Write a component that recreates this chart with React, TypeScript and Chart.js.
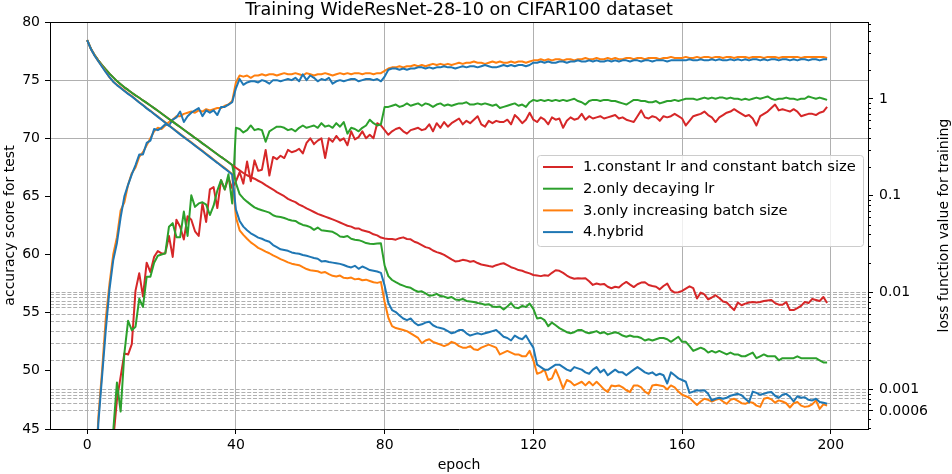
import { useEffect, useRef } from 'react';
import { Chart, registerables } from 'chart.js';

Chart.register(...registerables);

const FONT = '"DejaVu Sans", sans-serif';

const chartTitle = 'Training WideResNet-28-10 on CIFAR100 dataset';
const xTitle = 'epoch';
const yTitle = 'accuracy score for test';
const y2Title = 'loss function value for training';

const seriesNames = [
  '1.constant lr and constant batch size',
  '2.only decaying lr',
  '3.only increasing batch size',
  '4.hybrid',
];
const seriesColors = ['#d62728', '#2ca02c', '#ff7f0e', '#1f77b4'];

const epochs = Array.from({ length: 200 }, (_, i) => i);
const epochTicks = [0, 40, 80, 120, 160, 200];
const accuracyGridValues = [70, 75];
const lossTickValues = [0.0006, 0.001, 0.01, 0.1, 1];
const lossTickLabels = ['0.0006', '0.001', '0.01', '0.1', '1'];
const lossMinorTicks = [
  0.0004, 0.0005, 0.0007, 0.0008, 0.0009,
  0.002, 0.003, 0.004, 0.005, 0.006, 0.007, 0.008, 0.009,
  0.02, 0.03, 0.04, 0.05, 0.06, 0.07, 0.08, 0.09,
  0.2, 0.3, 0.4, 0.5, 0.6, 0.7, 0.8, 0.9,
  2, 3, 4, 5, 6,
];
const lossGridValues = [
  0.0006, 0.00072, 0.0008, 0.00087, 0.00093, 0.001,
  0.002, 0.003, 0.004, 0.005, 0.006, 0.007, 0.0075, 0.008, 0.009, 0.0095, 0.01,
];

// test accuracy (left axis)
const accConst = [
  10.0, 18.0, 25.0, 30.0, 35.0, 39.0, 42.0, 44.0, 47.5, 49.5,
  51.5, 51.4, 52.3, 56.9, 58.4, 56.4, 59.3, 58.5, 59.8, 60.3,
  60.1, 60.1, 61.6, 59.8, 63.0, 62.4, 61.3, 63.3, 63.0, 62.0,
  61.6, 64.4, 62.8, 65.6, 65.8, 64.0, 66.4, 65.6, 66.6, 65.7,
  66.3, 67.1, 66.1, 68.0, 66.3, 68.1, 67.2, 67.3, 69.0, 66.8,
  68.4, 68.2, 68.5, 68.3, 69.0, 68.8, 68.9, 69.1, 68.7, 69.6,
  70.0, 69.5, 69.8, 70.0, 68.3, 70.0, 69.7, 70.2, 69.8, 70.0,
  69.4, 70.6, 69.9, 70.1, 70.6, 70.0, 70.3, 70.0, 71.3, 71.1,
  70.7, 70.3, 70.6, 70.8, 70.9, 70.6, 70.4, 70.7, 70.8, 70.9,
  70.7, 70.8, 71.2, 70.6, 71.3, 70.9, 71.4, 71.0, 71.3, 71.5,
  71.7, 71.2, 71.5, 71.3, 71.6, 71.9, 71.2, 71.0, 71.5, 71.3,
  71.5, 71.4, 71.4, 71.6, 71.2, 72.0, 71.7, 71.3, 71.6, 72.2,
  71.6, 71.4, 71.8, 71.6, 71.2, 71.8, 71.6, 71.7, 70.9, 71.5,
  71.8, 71.6, 71.7, 72.1, 71.6, 71.9, 71.7, 71.8, 71.9, 71.7,
  71.8, 71.9, 72.0, 71.7, 71.8, 71.6, 71.5, 71.4, 71.9, 72.4,
  71.8, 71.7, 71.9, 71.8, 71.5, 71.9, 71.8, 71.9, 72.1, 71.9,
  71.7, 71.1, 71.5, 71.9, 72.0, 72.1, 72.3, 72.0, 71.8, 71.4,
  71.8, 72.0, 72.2, 72.3, 72.5, 72.3, 72.1, 71.9, 72.0, 71.7,
  71.1, 71.9, 72.1, 72.3, 72.6, 72.9, 72.4, 72.5, 72.4, 72.3,
  72.5, 72.3, 71.9, 72.0, 72.1, 72.1, 72.0, 72.2, 72.3, 72.7,
];
const accDecayLr = [
  10.0, 18.0, 25.0, 30.0, 35.0, 39.0, 42.0, 44.8, 49.0, 46.5,
  51.5, 54.3, 53.5, 53.8, 56.2, 55.5, 58.1, 58.1, 59.3, 59.9,
  60.0, 60.1, 62.4, 62.7, 61.5, 61.5, 63.7, 61.6, 65.1, 64.1,
  64.4, 64.5, 64.3, 63.4, 64.2, 65.5, 66.4, 65.6, 66.9, 64.4,
  70.9, 70.8, 70.5, 70.7, 71.1, 70.7, 70.8, 70.7, 69.7, 70.6,
  70.8, 71.0, 71.0, 70.9, 70.7, 70.8, 70.6, 70.9, 71.1, 70.9,
  71.0, 71.1, 70.9, 71.3, 71.0, 71.1, 70.9, 71.3, 71.0, 71.4,
  70.4, 70.9, 70.8, 70.6, 70.9, 71.1, 71.6, 71.3, 71.1, 71.2,
  72.7, 72.7, 72.8, 72.9, 72.7, 72.8, 73.0, 72.8, 72.9, 73.0,
  72.8, 73.0, 72.9, 72.7, 72.9, 73.0, 72.8, 72.9, 72.8, 72.9,
  73.0, 73.0, 73.1, 72.9, 72.9, 73.0, 72.9, 73.0, 72.9, 72.8,
  72.9, 72.6, 72.7, 72.8, 72.9, 73.0, 72.8, 72.9, 72.7, 73.1,
  73.3, 73.2, 73.3, 73.2, 73.3, 73.2, 73.3, 73.2, 73.3, 73.2,
  73.3, 73.4, 73.2, 73.1, 72.9, 73.2, 73.3, 73.3, 73.2, 73.3,
  73.3, 73.2, 73.2, 73.1, 73.0, 72.9, 73.1, 73.3, 73.3, 73.2,
  73.2, 73.1, 73.1, 73.2, 73.0, 73.1, 73.2, 73.2, 73.3, 73.2,
  73.3, 73.4, 73.4, 73.4, 73.3, 73.4, 73.5, 73.4, 73.5, 73.4,
  73.5, 73.5, 73.4, 73.5, 73.4, 73.4, 73.3, 73.4, 73.3, 73.4,
  73.5, 73.4, 73.5, 73.6, 73.4, 73.3, 73.4, 73.4, 73.5, 73.4,
  73.4, 73.3, 73.4, 73.4, 73.6, 73.5, 73.4, 73.5, 73.4, 73.3,
];
const accIncBatch = [
  20.5, 30.5, 39.0, 46.0, 50.0, 54.5, 57.5, 60.0, 61.5, 63.8,
  64.5, 66.0, 67.0, 67.5, 68.4, 68.8, 69.4, 70.0, 70.6, 70.9,
  70.8, 71.1, 71.4, 71.6, 71.9, 71.9, 72.1, 72.2, 72.3, 72.2,
  72.4, 72.3, 72.5, 72.4, 72.5, 72.6, 72.6, 72.8, 72.9, 73.2,
  74.8, 75.4, 75.3, 75.4, 75.2, 75.4, 75.4, 75.5, 75.4, 75.5,
  75.5, 75.4, 75.5, 75.6, 75.5, 75.5, 75.6, 75.5, 75.4, 75.6,
  75.5, 75.4, 75.5, 75.5, 75.6, 75.5, 75.4, 75.5, 75.6, 75.5,
  75.6, 75.5, 75.6, 75.6, 75.5, 75.6, 75.6, 75.5, 75.6, 75.6,
  75.8, 76.0, 76.1, 76.1, 76.2, 76.1, 76.2, 76.2, 76.3, 76.2,
  76.3, 76.2, 76.3, 76.4, 76.3, 76.4, 76.3, 76.4, 76.3, 76.4,
  76.5, 76.4, 76.5, 76.5, 76.6, 76.5, 76.5, 76.4, 76.5, 76.6,
  76.5, 76.6, 76.5, 76.5, 76.6, 76.5, 76.6, 76.6, 76.5, 76.6,
  76.7, 76.7, 76.8, 76.7, 76.8, 76.7, 76.8, 76.8, 76.7, 76.8,
  76.8, 76.7, 76.8, 76.8, 76.9, 76.8, 76.8, 76.9, 76.8, 76.8,
  76.9, 76.8, 76.9, 76.8, 76.8, 76.9, 76.9, 76.8, 76.9, 76.9,
  76.8, 76.9, 76.9, 76.9, 76.8, 76.9, 76.9, 77.0, 76.9, 76.9,
  76.9, 77.0, 76.9, 76.9, 77.0, 76.9, 77.0, 77.0, 76.9, 77.0,
  77.0, 76.9, 77.0, 77.0, 76.9, 77.0, 77.0, 77.0, 76.9, 77.0,
  77.0, 77.0, 76.9, 77.0, 77.0, 77.0, 76.9, 77.0, 77.0, 77.0,
  77.0, 77.0, 76.9, 77.0, 77.0, 77.0, 77.0, 77.0, 77.0, 76.9,
];
const accHybrid = [
  20.0, 30.0, 38.5, 45.5, 49.5, 53.5, 57.0, 59.5, 61.0, 63.2,
  65.0, 66.0, 66.9, 67.7, 68.6, 68.6, 69.6, 69.8, 70.8, 70.7,
  70.9, 71.2, 71.1, 71.6, 71.8, 72.3, 71.4, 71.9, 72.2, 72.4,
  72.6, 71.9, 72.4, 72.2, 72.4, 72.0, 72.7, 72.7, 72.9, 73.1,
  74.3, 75.1, 74.6, 74.8, 74.9, 74.9, 74.8, 75.0, 74.9, 74.7,
  75.0, 75.0, 74.9, 75.0, 75.1, 75.0, 75.2, 74.9, 75.5, 75.0,
  75.4, 75.2, 74.9, 75.1, 75.0, 75.2, 74.7, 74.9, 75.0, 74.9,
  75.0, 75.1, 75.1, 74.9, 75.0, 75.1, 75.1, 75.0, 75.1, 74.9,
  75.3, 75.9, 76.0, 76.0, 75.9, 76.0, 75.9, 76.0, 76.0, 76.1,
  76.1, 76.0, 76.1, 76.0, 76.1, 76.1, 76.2, 76.1, 76.1, 76.0,
  76.1, 76.2, 76.1, 76.2, 76.2, 76.1, 76.2, 76.3, 76.2, 76.1,
  76.1, 76.2, 76.3, 76.2, 76.3, 76.2, 76.3, 76.3, 76.2, 76.3,
  76.5, 76.5, 76.6, 76.5, 76.6, 76.5, 76.5, 76.6, 76.6, 76.5,
  76.6, 76.6, 76.7, 76.6, 76.6, 76.7, 76.6, 76.7, 76.6, 76.6,
  76.7, 76.6, 76.7, 76.6, 76.7, 76.7, 76.6, 76.7, 76.7, 76.6,
  76.7, 76.7, 76.6, 76.7, 76.7, 76.7, 76.6, 76.7, 76.7, 76.7,
  76.7, 76.7, 76.8, 76.7, 76.7, 76.8, 76.7, 76.7, 76.8, 76.7,
  76.8, 76.7, 76.7, 76.8, 76.7, 76.8, 76.7, 76.8, 76.7, 76.8,
  76.8, 76.7, 76.8, 76.7, 76.8, 76.8, 76.7, 76.8, 76.8, 76.7,
  76.8, 76.7, 76.8, 76.8, 76.7, 76.8, 76.8, 76.7, 76.8, 76.8,
];

// training loss (right axis, log scale)
const lossConst = [
  4.05, 3.31, 2.85, 2.51, 2.24, 2.02, 1.83, 1.67, 1.53, 1.42,
  1.32, 1.24, 1.16, 1.09, 1.03, 0.966, 0.910, 0.857, 0.805, 0.755,
  0.708, 0.664, 0.622, 0.583, 0.547, 0.513, 0.481, 0.451, 0.423, 0.396,
  0.372, 0.348, 0.327, 0.306, 0.287, 0.269, 0.252, 0.237, 0.222, 0.208,
  0.195, 0.183, 0.172, 0.163, 0.156, 0.150, 0.143, 0.137, 0.129, 0.122,
  0.116, 0.109, 0.104, 0.099, 0.093, 0.089, 0.086, 0.081, 0.078, 0.074,
  0.071, 0.068, 0.065, 0.063, 0.061, 0.059, 0.057, 0.055, 0.053, 0.051,
  0.049, 0.048, 0.046, 0.046, 0.044, 0.043, 0.042, 0.040, 0.039, 0.037,
  0.0362, 0.0358, 0.0357, 0.0352, 0.0365, 0.0372, 0.0358, 0.0355, 0.0335, 0.0325,
  0.0310, 0.0295, 0.0288, 0.0272, 0.0262, 0.0255, 0.0245, 0.0232, 0.0220, 0.0210,
  0.0212, 0.0218, 0.0215, 0.0208, 0.0212, 0.0202, 0.0195, 0.0192, 0.0188, 0.0185,
  0.0192, 0.0197, 0.0201, 0.0192, 0.0183, 0.0178, 0.0171, 0.0168, 0.0162, 0.0158,
  0.0152, 0.0150, 0.0148, 0.0151, 0.0149, 0.0160, 0.0170, 0.0168, 0.0160, 0.0150,
  0.0143, 0.0139, 0.0141, 0.0140, 0.0141, 0.0131, 0.0120, 0.0124, 0.0121, 0.0123,
  0.0115, 0.0111, 0.0115, 0.0113, 0.0122, 0.0129, 0.0121, 0.0114, 0.0122, 0.0127,
  0.0128, 0.0120, 0.0117, 0.0115, 0.0108, 0.0117, 0.0124, 0.0106, 0.0100, 0.0101,
  0.0104, 0.0110, 0.0116, 0.0111, 0.0087, 0.0100, 0.0096, 0.0085, 0.0089, 0.0094,
  0.0088, 0.0081, 0.0079, 0.0072, 0.0066, 0.0079, 0.0074, 0.0077, 0.0079, 0.0080,
  0.0079, 0.0080, 0.0082, 0.0083, 0.0084, 0.0078, 0.0075, 0.0075, 0.0080, 0.0066,
  0.0066, 0.0069, 0.0073, 0.0080, 0.0078, 0.0086, 0.0084, 0.0082, 0.0090, 0.0078,
];
const lossDecayLr = [
  4.05, 3.31, 2.85, 2.51, 2.24, 2.02, 1.83, 1.67, 1.53, 1.42,
  1.32, 1.24, 1.16, 1.09, 1.03, 0.966, 0.910, 0.857, 0.805, 0.755,
  0.708, 0.664, 0.622, 0.583, 0.547, 0.513, 0.481, 0.451, 0.423, 0.396,
  0.372, 0.348, 0.327, 0.306, 0.287, 0.269, 0.252, 0.237, 0.222, 0.208,
  0.135, 0.104, 0.094, 0.087, 0.081, 0.076, 0.073, 0.071, 0.069, 0.067,
  0.063, 0.061, 0.0605, 0.059, 0.057, 0.0555, 0.055, 0.052, 0.050, 0.049,
  0.0475, 0.0445, 0.047, 0.044, 0.0435, 0.043, 0.0425, 0.0405, 0.038, 0.0375,
  0.0385, 0.036, 0.0352, 0.0348, 0.0338, 0.0325, 0.032, 0.0318, 0.0321, 0.0323,
  0.0190, 0.0148, 0.0135, 0.0128, 0.0122, 0.0118, 0.0114, 0.0112, 0.0106, 0.0102,
  0.0103, 0.0098, 0.0093, 0.0094, 0.0097, 0.0092, 0.0091, 0.0088, 0.0090, 0.0085,
  0.0084, 0.0086, 0.0082, 0.0081, 0.0080, 0.0078, 0.0077, 0.0075, 0.0076, 0.0072,
  0.0071, 0.0072, 0.0067, 0.0072, 0.0078, 0.0070, 0.0069, 0.0073, 0.0071, 0.0077,
  0.0068, 0.0054, 0.0055, 0.0052, 0.0045, 0.0049, 0.0046, 0.0043, 0.0041, 0.0039,
  0.0038, 0.0039, 0.0041, 0.0041, 0.0039, 0.0038, 0.0039, 0.0040, 0.0038, 0.0039,
  0.0037, 0.0038, 0.0039, 0.0038, 0.0036, 0.0035, 0.0036, 0.0035, 0.0035, 0.0034,
  0.0032, 0.0033, 0.0032, 0.0033, 0.0034, 0.0034, 0.0033, 0.0031, 0.0033, 0.0035,
  0.0031, 0.0031, 0.0028, 0.0025, 0.0026, 0.0027, 0.0026, 0.0024, 0.0025, 0.0024,
  0.0025, 0.0024, 0.0023, 0.0024, 0.0023, 0.0023, 0.0022, 0.0022, 0.0023, 0.0024,
  0.0021, 0.0022, 0.0023, 0.0022, 0.0022, 0.0022, 0.0020, 0.0021, 0.0021, 0.0021,
  0.0021, 0.0022, 0.0021, 0.0021, 0.0021, 0.0021, 0.0021, 0.0020, 0.0019, 0.0019,
];
const lossIncBatch = [
  4.05, 3.29, 2.81, 2.46, 2.17, 1.92, 1.67, 1.51, 1.40, 1.31,
  1.22, 1.14, 1.07, 0.995, 0.925, 0.865, 0.805, 0.755, 0.705, 0.658,
  0.614, 0.573, 0.535, 0.499, 0.466, 0.435, 0.406, 0.380, 0.356, 0.333,
  0.311, 0.291, 0.272, 0.254, 0.237, 0.221, 0.207, 0.193, 0.180, 0.168,
  0.060, 0.044, 0.0395, 0.036, 0.033, 0.031, 0.029, 0.0278, 0.0265, 0.0255,
  0.0242, 0.0232, 0.0222, 0.0214, 0.0205, 0.0199, 0.0195, 0.0192, 0.0183, 0.0175,
  0.0170, 0.0168, 0.0166, 0.0160, 0.0163, 0.0155, 0.0149, 0.0147, 0.0150, 0.0142,
  0.0141, 0.0143, 0.0137, 0.0139, 0.0134, 0.0136, 0.0132, 0.0128, 0.0126, 0.0129,
  0.0080, 0.0055, 0.0045, 0.0043, 0.0042, 0.0041, 0.0040, 0.0038, 0.0036, 0.0034,
  0.0030, 0.0032, 0.0033, 0.0031, 0.0030, 0.0029, 0.0028, 0.0029, 0.0031, 0.0030,
  0.0028, 0.0027, 0.0027, 0.0028, 0.0026, 0.00255, 0.0027, 0.0028, 0.0029, 0.0028,
  0.0027, 0.0023, 0.0024, 0.0025, 0.0024, 0.0023, 0.0023, 0.0022, 0.0022, 0.0025,
  0.0020, 0.00145, 0.0015, 0.0016, 0.00125, 0.0013, 0.0016, 0.0013, 0.00102, 0.00125,
  0.0012, 0.0011, 0.00115, 0.0012, 0.0011, 0.0012, 0.0011, 0.0012, 0.0011, 0.0010,
  0.00094, 0.0011, 0.00108, 0.0011, 0.00105, 0.00098, 0.00094, 0.0011, 0.0011, 0.00105,
  0.00095, 0.0009, 0.0011, 0.00112, 0.0011, 0.00108, 0.0010, 0.0011, 0.00105, 0.00095,
  0.00088, 0.00085, 0.00082, 0.00075, 0.00069, 0.00075, 0.0008, 0.00078, 0.00075, 0.00078,
  0.00080, 0.00075, 0.00071, 0.00078, 0.0008, 0.00076, 0.00072, 0.00071, 0.00074, 0.00073,
  0.00068, 0.00066, 0.0008, 0.00082, 0.00079, 0.00073, 0.00077, 0.00075, 0.00072, 0.00065,
  0.00072, 0.00074, 0.00068, 0.00066, 0.00067, 0.0007, 0.00077, 0.00063, 0.0007, 0.00068,
];
const lossHybrid = [
  4.05, 3.28, 2.80, 2.45, 2.15, 1.89, 1.68, 1.51, 1.39, 1.30,
  1.21, 1.13, 1.06, 0.99, 0.92, 0.86, 0.80, 0.75, 0.70, 0.653,
  0.610, 0.569, 0.531, 0.495, 0.462, 0.431, 0.403, 0.377, 0.353, 0.330,
  0.308, 0.288, 0.269, 0.251, 0.234, 0.219, 0.204, 0.191, 0.178, 0.166,
  0.072, 0.055, 0.048, 0.044, 0.041, 0.039, 0.037, 0.036, 0.0345, 0.0335,
  0.031, 0.0295, 0.028, 0.0275, 0.027, 0.026, 0.0255, 0.0252, 0.0245, 0.024,
  0.0234, 0.0228, 0.0224, 0.021, 0.0212, 0.0207, 0.0204, 0.0201, 0.0198, 0.0193,
  0.0186, 0.0182, 0.0189, 0.0176, 0.0186, 0.0179, 0.0171, 0.0168, 0.0165, 0.0160,
  0.0118, 0.0078, 0.0066, 0.0063, 0.0058, 0.0054, 0.0052, 0.0054, 0.0049, 0.0046,
  0.0047, 0.0049, 0.0050, 0.0046, 0.0044, 0.0043, 0.0042, 0.0040, 0.0038, 0.0039,
  0.0041, 0.0041, 0.0038, 0.0036, 0.0037, 0.0038, 0.0037, 0.0038, 0.0039, 0.0040,
  0.0041, 0.0038, 0.0035, 0.0034, 0.0032, 0.0036, 0.0034, 0.0033, 0.0036, 0.0031,
  0.0027, 0.0018, 0.0017, 0.0016, 0.0016, 0.0017, 0.0018, 0.0018, 0.0017, 0.0016,
  0.00155, 0.0017, 0.00165, 0.0016, 0.0015, 0.00145, 0.0016, 0.0017, 0.0015, 0.0016,
  0.0014, 0.0015, 0.0016, 0.0015, 0.0015, 0.0014, 0.0015, 0.0016, 0.0017, 0.0016,
  0.0015, 0.00145, 0.0015, 0.0014, 0.00145, 0.0014, 0.00115, 0.0015, 0.0014, 0.0013,
  0.00125, 0.0012, 0.00092, 0.00095, 0.00098, 0.00097, 0.00098, 0.00090, 0.00077, 0.0008,
  0.00082, 0.0008, 0.00082, 0.00086, 0.00088, 0.0009, 0.00087, 0.0008, 0.00074, 0.00095,
  0.00092, 0.00088, 0.0009, 0.00093, 0.00094, 0.00086, 0.00082, 0.00088, 0.0009, 0.00084,
  0.00075, 0.00085, 0.00082, 0.00083, 0.00078, 0.00077, 0.0008, 0.00074, 0.00073, 0.00071,
];

const accSeries = [accConst, accDecayLr, accIncBatch, accHybrid];
const lossSeries = [lossConst, lossDecayLr, lossIncBatch, lossHybrid];

const clear = 'rgba(0,0,0,0)';
const gridGray = '#b0b0b0';

// titles, top spine, minor ticks and the legend, drawn the matplotlib way
const decorPlugin = {
  id: 'decor',
  afterDraw(chart: Chart) {
    const { ctx, chartArea: a } = chart;
    const y2 = chart.scales.y2;
    ctx.save();

    ctx.strokeStyle = '#000';
    ctx.lineWidth = 1;
    ctx.beginPath();
    ctx.moveTo(a.left, Math.round(a.top) + 0.5);
    ctx.lineTo(a.right, Math.round(a.top) + 0.5);
    ctx.stroke();

    ctx.beginPath();
    lossMinorTicks.forEach((v) => {
      const py = Math.round(y2.getPixelForValue(v)) + 0.5;
      ctx.moveTo(a.right, py);
      ctx.lineTo(a.right + 3, py);
    });
    ctx.stroke();

    ctx.fillStyle = '#000';
    ctx.textBaseline = 'alphabetic';
    ctx.textAlign = 'center';
    ctx.font = `17.6px ${FONT}`;
    ctx.fillText(chartTitle, (a.left + a.right) / 2, 14.5);

    ctx.font = `14px ${FONT}`;
    ctx.fillText(xTitle, (a.left + a.right) / 2, 469);

    const midY = (a.top + a.bottom) / 2;
    ctx.save();
    ctx.translate(13.5, midY);
    ctx.rotate(-Math.PI / 2);
    ctx.fillText(yTitle, 0, 0);
    ctx.restore();
    ctx.save();
    ctx.translate(947.5, midY);
    ctx.rotate(-Math.PI / 2);
    ctx.fillText(y2Title, 0, 0);
    ctx.restore();

    // legend
    const lx = 537.5, ly = 155.5, lw = 326, lh = 91, r = 3;
    ctx.beginPath();
    ctx.moveTo(lx + r, ly);
    ctx.lineTo(lx + lw - r, ly);
    ctx.arcTo(lx + lw, ly, lx + lw, ly + r, r);
    ctx.lineTo(lx + lw, ly + lh - r);
    ctx.arcTo(lx + lw, ly + lh, lx + lw - r, ly + lh, r);
    ctx.lineTo(lx + r, ly + lh);
    ctx.arcTo(lx, ly + lh, lx, ly + lh - r, r);
    ctx.lineTo(lx, ly + r);
    ctx.arcTo(lx, ly, lx + r, ly, r);
    ctx.closePath();
    ctx.fillStyle = 'rgba(255,255,255,0.8)';
    ctx.fill();
    ctx.strokeStyle = '#cccccc';
    ctx.lineWidth = 1;
    ctx.stroke();

    ctx.textAlign = 'left';
    ctx.textBaseline = 'middle';
    ctx.font = `14.7px ${FONT}`;
    seriesNames.forEach((name, i) => {
      const rowY = 167 + i * 21.7;
      ctx.strokeStyle = seriesColors[i];
      ctx.lineWidth = 2;
      ctx.beginPath();
      ctx.moveTo(543, rowY);
      ctx.lineTo(573, rowY);
      ctx.stroke();
      ctx.fillStyle = '#000';
      ctx.fillText(name, 583, rowY + 0.5);
    });

    ctx.restore();
  },
};

export default function App() {
  const canvasRef = useRef<HTMLCanvasElement>(null);
  const chartRef = useRef<Chart | null>(null);

  useEffect(() => {
    document.body.style.margin = '0';
    if (!canvasRef.current) return;
    if (chartRef.current) chartRef.current.destroy();

    const line = (data: number[], i: number, axis: string, order: number) => ({
      data: epochs.map((e, j) => ({ x: e, y: data[j] })),
      yAxisID: axis,
      borderColor: seriesColors[i],
      backgroundColor: seriesColors[i],
      borderWidth: 2,
      borderJoinStyle: 'round' as const,
      pointRadius: 0,
      tension: 0,
      clip: 0,
      order,
    });

    chartRef.current = new Chart(canvasRef.current, {
      type: 'line',
      data: {
        datasets: [
          ...accSeries.map((s, i) => line(s, i, 'y', 8 - i)),
          ...lossSeries.map((s, i) => line(s, i, 'y2', 4 - i)),
        ],
      },
      options: {
        animation: false,
        responsive: true,
        maintainAspectRatio: false,
        events: [],
        layout: { padding: { top: 22, left: 0, right: 0, bottom: 0 } },
        plugins: {
          legend: { display: false },
          title: { display: false },
          tooltip: { enabled: false },
        },
        scales: {
          x: {
            type: 'linear',
            min: -10,
            max: 210,
            afterBuildTicks: (s: any) => {
              s.ticks = epochTicks.map((v) => ({ value: v }));
            },
            afterFit: (s: any) => {
              s.height = 45;
            },
            grid: { color: gridGray, lineWidth: 1, tickColor: '#000', tickLength: 5, tickWidth: 1 },
            border: { color: '#000', width: 1 },
            ticks: { color: '#000', font: { family: FONT, size: 14 }, padding: 3, maxRotation: 0, autoSkip: false },
          },
          y: {
            type: 'linear',
            position: 'left',
            min: 45,
            max: 80,
            afterFit: (s: any) => {
              s.width = 50;
            },
            grid: {
              color: (c: any) => (accuracyGridValues.includes(c.tick?.value) ? gridGray : clear),
              lineWidth: 1,
              tickColor: '#000',
              tickLength: 5,
              tickWidth: 1,
            },
            border: { color: '#000', width: 1 },
            ticks: { stepSize: 5, color: '#000', font: { family: FONT, size: 14 }, padding: 5 },
          },
          y2: {
            type: 'logarithmic',
            position: 'right',
            min: 0.00039,
            max: 6.24,
            afterBuildTicks: (s: any) => {
              const vals = Array.from(new Set([...lossGridValues, ...lossTickValues])).sort((p, q) => p - q);
              s.ticks = vals.map((v) => ({ value: v }));
            },
            afterFit: (s: any) => {
              s.width = 84;
            },
            grid: {
              color: (c: any) => (lossGridValues.includes(c.tick?.value) ? gridGray : clear),
              lineWidth: 1,
              tickColor: (c: any) => (lossTickValues.includes(c.tick?.value) ? '#000' : clear),
              tickLength: 5,
              tickWidth: 1,
            },
            border: { color: '#000', width: 1, dash: [4, 1.8] },
            ticks: {
              color: '#000',
              font: { family: FONT, size: 14 },
              padding: 6,
              autoSkip: false,
              callback: (v: any) => {
                const i = lossTickValues.indexOf(Number(v));
                return i >= 0 ? lossTickLabels[i] : '';
              },
            },
          },
        },
      },
      plugins: [decorPlugin],
    });

    return () => {
      if (chartRef.current) {
        chartRef.current.destroy();
        chartRef.current = null;
      }
    };
  }, []);

  return (
    <div style={{ position: 'relative', width: 952, height: 474 }}>
      <canvas ref={canvasRef} />
    </div>
  );
}
